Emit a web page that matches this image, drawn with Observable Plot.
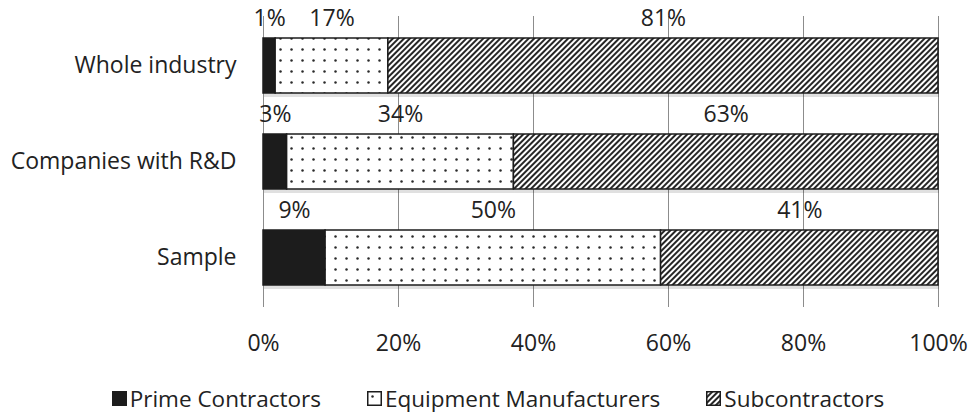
<!DOCTYPE html>
<html>
<head>
<meta charset="utf-8">
<script src="https://cdn.jsdelivr.net/npm/d3@7"></script>
<script src="https://cdn.jsdelivr.net/npm/@observablehq/plot@0.6"></script>
<style>
  html, body { margin: 0; padding: 0; background: #fff; }
  body { width: 972px; height: 413px; overflow: hidden; font-family: "Open Sans", sans-serif; color: #222; }
  #legend { height: 43px; box-sizing: border-box; padding-top: 14px; display: flex; align-items: center; justify-content: center; padding-left: 24px; font-size: 22.5px; }
  .item { display: flex; align-items: center; margin: 0 23px; }
  .item svg { margin-right: 3px; }
</style>
</head>
<body>
<svg width="0" height="0" style="position:absolute">
  <defs>
    <pattern id="dots" patternUnits="userSpaceOnUse" width="11" height="11">
      <rect width="11" height="11" fill="#fff"></rect>
      <circle cx="5.5" cy="5.5" r="1.25" fill="#2a2a2a"></circle>
    </pattern>
    <pattern id="hatch" patternUnits="userSpaceOnUse" width="4" height="4" patternTransform="rotate(45)">
      <rect width="4" height="4" fill="#fff"></rect>
      <line x1="1" y1="0" x2="1" y2="4" stroke="#262626" stroke-width="2"></line>
    </pattern>
  </defs>
</svg>
<div id="chart"></div>
<div id="legend"></div>
<script>
const categories = ["Whole industry", "Companies with R&D", "Sample"];
const series = ["Prime Contractors", "Equipment Manufacturers", "Subcontractors"];
const prime = [1.8, 3.5, 9.2];
const equipment = [16.7, 33.6, 49.7];
const subcontractors = [81.5, 62.9, 41.1];
const primeLabels = ["1%", "3%", "9%"];
const equipmentLabels = ["17%", "34%", "50%"];
const subLabels = ["81%", "63%", "41%"];
const xTicks = [0, 20, 40, 60, 80, 100];
const fills = ["#1c1c1c", "url(#dots)", "url(#hatch)"];

const values = [prime, equipment, subcontractors];
const labels = [primeLabels, equipmentLabels, subLabels];
const data = categories.flatMap((c, i) =>
  series.map((s, j) => ({category: c, series: s, value: values[j][i], label: labels[j][i]}))
);

const chart = Plot.plot({
  width: 972,
  height: 370,
  marginLeft: 263,
  marginRight: 34,
  marginTop: 16,
  marginBottom: 63,
  style: {fontFamily: "Open Sans, sans-serif", fontSize: "23px", color: "#222", background: "#fff"},
  x: {domain: [0, 100], ticks: xTicks, tickFormat: d => d + "%", tickSize: 0, tickPadding: 27, label: null},
  y: {domain: categories, paddingInner: 0.43, paddingOuter: 0.22, tickSize: 0, tickPadding: 27, label: null},
  color: {domain: series, range: fills},
  marks: [
    Plot.ruleX(xTicks, {stroke: "#8c8c8c", strokeWidth: 1}),
    Plot.barX(data, Plot.stackX({x: "value", y: "category", fill: "#000", fillOpacity: 0.12, dy: 4, dx: 1})),
    Plot.barX(data, Plot.stackX({x: "value", y: "category", fill: "series", stroke: "#1c1c1c", strokeWidth: 1.5})),
    Plot.text(data, Plot.stackX({x: "value", y: "category", z: "series", text: "label", dy: -47, fill: "#222"}))
  ]
});
document.getElementById("chart").appendChild(chart);

const legend = document.getElementById("legend");
series.forEach((s, i) => {
  const item = document.createElement("div");
  item.className = "item";
  item.innerHTML = `<svg width="15" height="15"><rect x="0.75" y="0.75" width="13.5" height="13.5" fill="${fills[i]}" stroke="#1c1c1c" stroke-width="1.5"></rect></svg><span>${s}</span>`;
  legend.appendChild(item);
});
</script>
</body>
</html>
